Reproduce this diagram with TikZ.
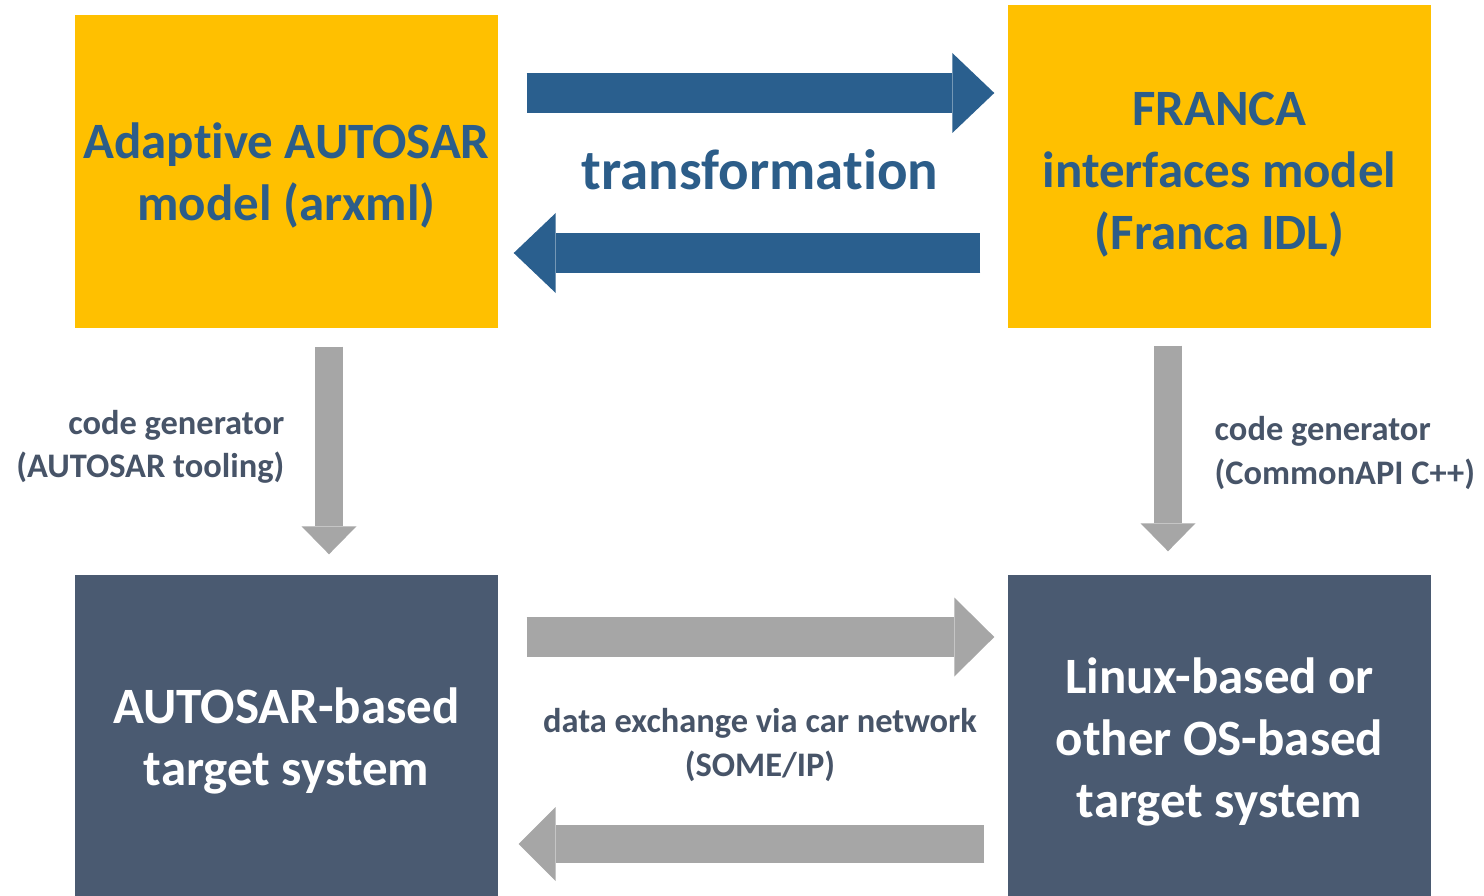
\documentclass[tikz,border=0pt]{standalone}
\usepackage{fontspec}
\setmainfont{Carlito}[Ligatures=NoCommon]
\usetikzlibrary{arrows.meta,calc,positioning}

\definecolor{boxyellow}{HTML}{FFC000}
\definecolor{boxslate}{HTML}{4A5A71}
\definecolor{modelblue}{HTML}{2C5D89}
\definecolor{arrowblue}{HTML}{2A5F8E}
\definecolor{arrowgray}{HTML}{A6A6A6}
\definecolor{labelgray}{HTML}{475468}

% centred lines, lowered a little inside the box
\newcommand{\boxlines}[2][0pt]{%
  \raisebox{-#1}[\height][\depth]{\begin{tabular}{@{}c@{}}#2\end{tabular}}}

\tikzstyle{every node}=[inner sep=0pt]
\tikzstyle{model}=[fill=boxyellow, text=modelblue,
  minimum width=4.23cm, font=\fontsize{14.5}{17.6}\selectfont\bfseries]
\tikzstyle{target}=[fill=boxslate, text=white,
  minimum width=4.23cm, minimum height=3.25cm,
  font=\fontsize{14.5}{17.6}\selectfont\bfseries]
\tikzstyle{gentext}=[text=labelgray, font=\fontsize{9.8}{12.4}\selectfont\bfseries]
\tikzstyle{transarrow}=[arrowblue, line width=4mm,
  -{Triangle[length=4.2mm,width=8mm,line width=0pt]}]
\tikzstyle{genarrow}=[arrowgray, line width=2.8mm,
  -{Triangle[length=2.8mm,width=5.5mm,line width=0pt]}]
\tikzstyle{busarrow}=[arrowgray, line width=4mm,
  -{Triangle[length=4mm,width=7.9mm,line width=0pt]}]

\begin{document}
\begin{tikzpicture}
  \clip (0,0) rectangle (14.84,-8.95);

  % models
  \node[model, minimum height=3.13cm] (adapt) at (2.865,-1.715)
    {\boxlines[1.6pt]{Adaptive AUTOSAR\\model (arxml)}};
  \node[model, minimum height=3.23cm] (franca) at (12.195,-1.665)
    {\boxlines[2.4pt]{FRANCA\\interfaces model\\(Franca IDL)}};

  % target systems
  \node[target] (autotarget) at (2.865,-7.375)
    {\boxlines[1.2pt]{AUTOSAR-based\\target system}};
  \node[target] (linuxtarget) at (12.195,-7.375)
    {\boxlines[1.5pt]{Linux-based or\\other OS-based\\target system}};

  % transformation
  \draw[transarrow] ($(adapt.east)+(0.28,0.785)$)
    -- ($(adapt.east -| franca.west)+(-0.13,0.785)$);
  \draw[transarrow] ($(adapt.east -| franca.west)+(-0.27,-0.815)$)
    -- ($(adapt.east)+(0.15,-0.815)$);
  \node[text=modelblue, font=\fontsize{16.2}{19}\selectfont\bfseries]
    (trans) at (7.6,-1.70) {transformation};

  % code generators
  \draw[genarrow] ($(adapt.south)+(0.425,-0.18)$)
    -- ($(adapt.south |- autotarget.north)+(0.425,0.20)$);
  \draw[genarrow] ($(franca.south)+(-0.515,-0.17)$)
    -- ($(franca.south |- linuxtarget.north)+(-0.515,0.23)$);
  \node[gentext, align=right, anchor=east] (gena) at (2.85,-4.47)
    {code generator\\(AUTOSAR tooling)};
  \node[gentext, align=left, anchor=west] (genf) at (12.14,-4.53)
    {code generator\\(CommonAPI C++)};

  % data exchange
  \draw[busarrow] ($(autotarget.east)+(0.28,1.005)$)
    -- ($(autotarget.east -| linuxtarget.west)+(-0.13,1.005)$);
  \draw[busarrow, line width=3.8mm,
      -{Triangle[length=3.7mm,width=7.4mm,line width=0pt]}]
    ($(autotarget.east -| linuxtarget.west)+(-0.23,-1.065)$)
    -- ($(autotarget.east)+(0.20,-1.065)$);
  \node[gentext, align=center] (bus) at (7.6,-7.45)
    {data exchange via car network\\(SOME/IP)};
\end{tikzpicture}
\end{document}
